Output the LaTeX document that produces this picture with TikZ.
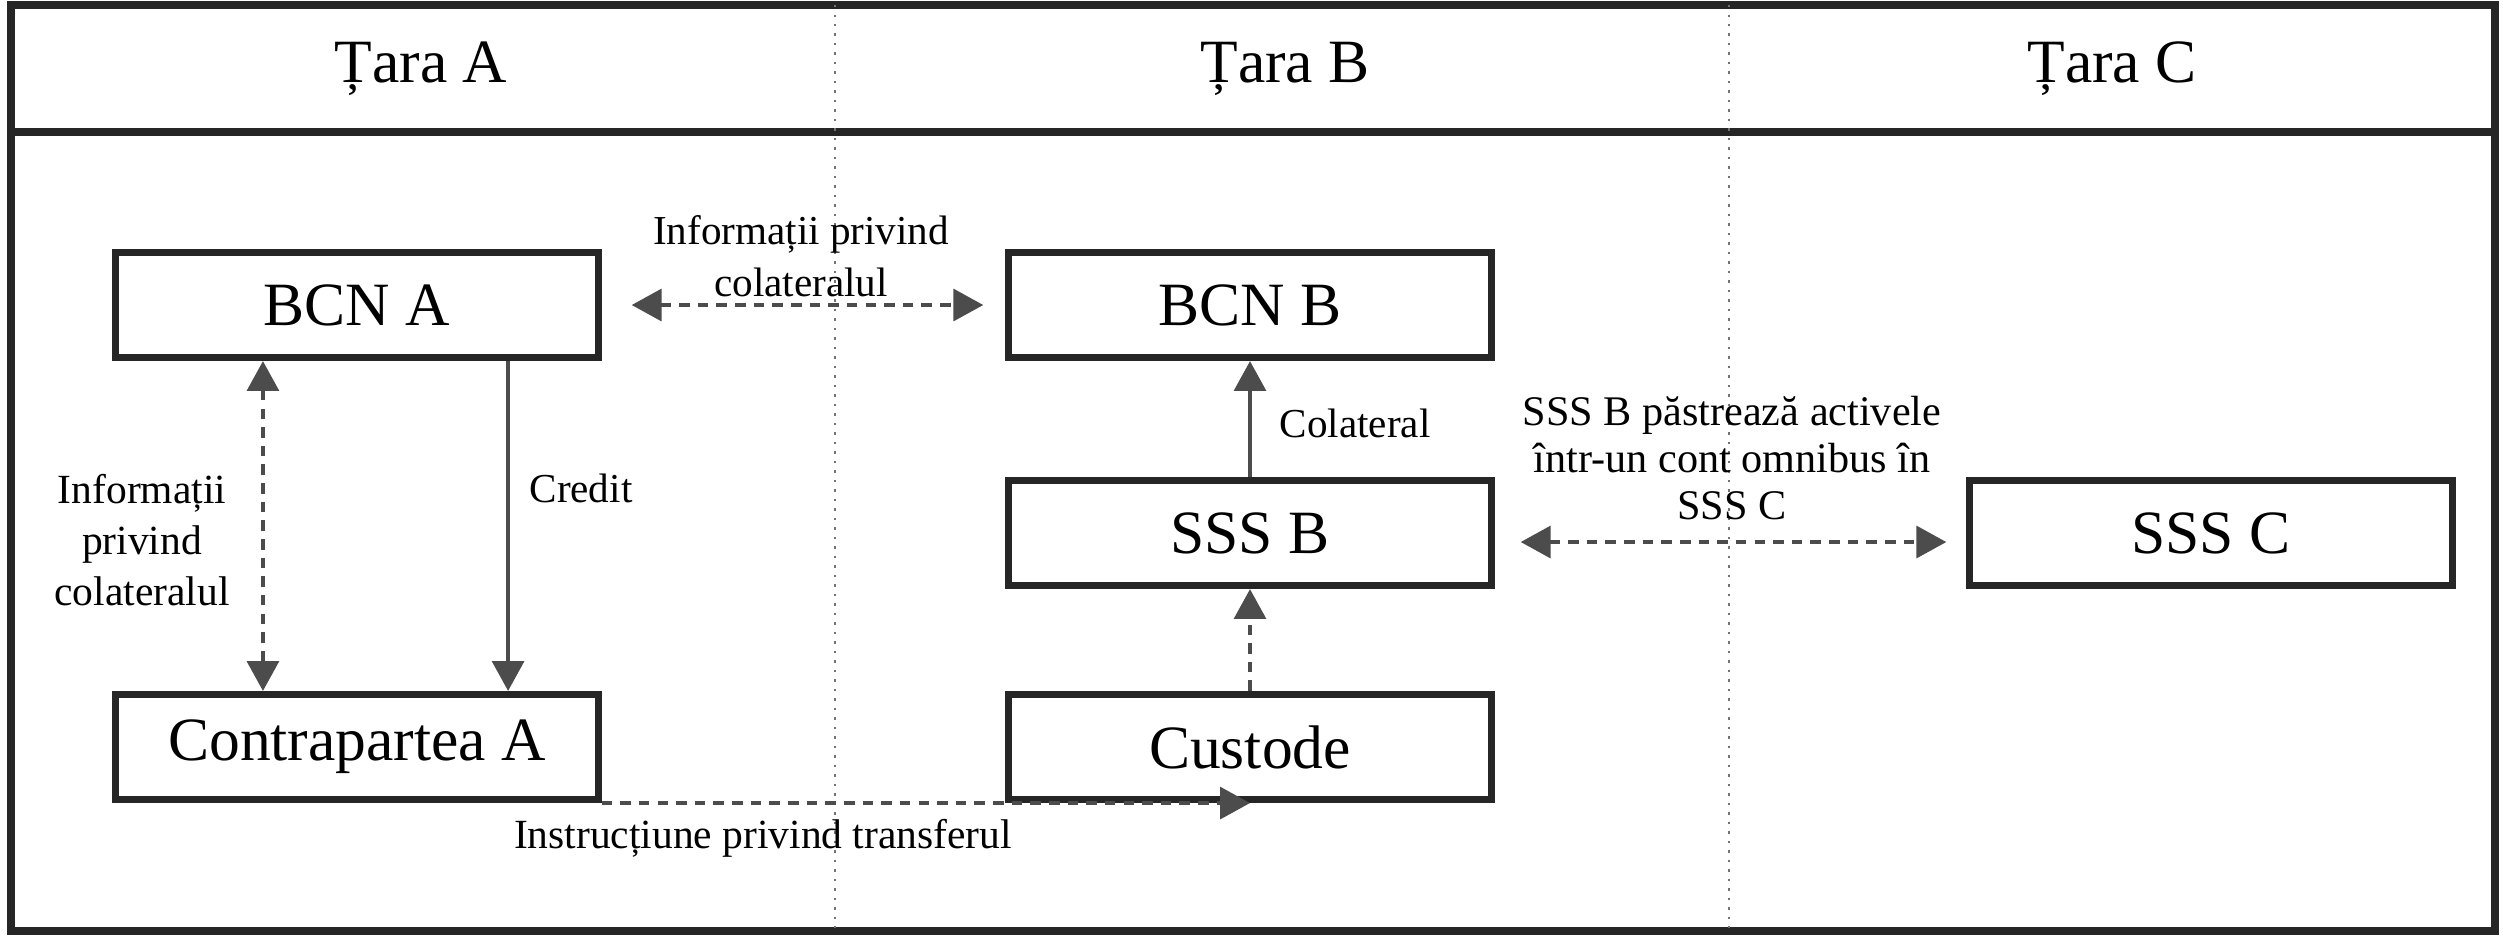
\documentclass[tikz,border=0pt]{standalone}
\usepackage{fontspec}
\setmainfont{Liberation Serif}
\usetikzlibrary{arrows.meta}
\begin{document}
\begin{tikzpicture}[x=0.01cm,y=-0.01cm,
  frame/.style={draw=black!85, line width=2.2pt},
  divider/.style={draw=black!55, line width=0.7pt, dotted},
  box/.style={draw=black!85, line width=2pt, minimum width=4.82cm, minimum height=1.05cm, inner sep=0pt, font=\fontsize{17.5}{20}\selectfont},
  hdr/.style={font=\fontsize{17.5}{20}\selectfont},
  lbl/.style={font=\fontsize{11.7}{14.8}\selectfont, align=center, inner sep=0pt},
  tip/.style={-{Triangle[length=8.5pt,width=9pt]}},
  dtip/.style={{Triangle[length=8.5pt,width=9pt]}-{Triangle[length=8.5pt,width=9pt]}},
  conn/.style={line width=1.2pt, draw=black!70},
  dconn/.style={conn, dash pattern=on 3pt off 2.3pt},
]
\useasboundingbox (0,0) rectangle (2503,941);
% frame and columns
\draw[frame] (11,5) rectangle (2495,931);
\draw[frame] (11,132) -- (2495,132);
\draw[divider] (835,5) -- (835,931);
\draw[divider] (1729,5) -- (1729,931);
\node[hdr] (hA) at (421,69) {Țara A};
\node[hdr] (hB) at (1285,69) {Țara B};
\node[hdr] (hC) at (2112,69) {Țara C};
% boxes
\node[box] (bcnA) at (357,305) {BCN A};
\node[box] (bcnB) at (1250,305) {BCN B};
\node[box] (sssB) at (1250,533) {SSS B};
\node[box] (sssC) at (2211,533) {SSS C};
\node[box] (ctrA) at (357,747) {Contrapartea A};
\node[box] (cust) at (1250,747) {Custode};
% connectors
\draw[dconn, dtip, shorten <=0.3cm, shorten >=0.22cm] (bcnA.east) -- (bcnB.west);
\draw[dconn, dtip] ([xshift=-0.94cm]bcnA.south) -- ([xshift=-0.94cm]ctrA.north);
\draw[conn, tip] ([xshift=1.51cm]bcnA.south) -- ([xshift=1.51cm]ctrA.north);
\draw[conn, tip] (sssB.north) -- (bcnB.south);
\draw[dconn, tip] (cust.north) -- (sssB.south);
\draw[dconn, dtip, shorten <=0.26cm, shorten >=0.2cm] ([yshift=-0.09cm]sssB.east) -- ([yshift=-0.09cm]sssC.west);
\draw[dconn, tip] (ctrA.south east) -- (cust.south);
% labels
\node[lbl] (l1) at (801,256) {Informații privind\\colateralul};
\node[lbl, font=\fontsize{11.8}{14.5}\selectfont] (l2) at (142,540) {Informații\\privind\\colateralul};
\node[lbl] (l3) at (581,488) {Credit};
\node[lbl] (l4) at (1355,423) {Colateral};
\node[lbl, font=\fontsize{12}{13.4}\selectfont] (l5) at (1732,458) {SSS B păstrează activele\\într-un cont omnibus în\\SSS C};
\node[lbl, font=\fontsize{11.8}{14}\selectfont] (l6) at (763,838) {Instrucțiune privind transferul};
\end{tikzpicture}
\end{document}
